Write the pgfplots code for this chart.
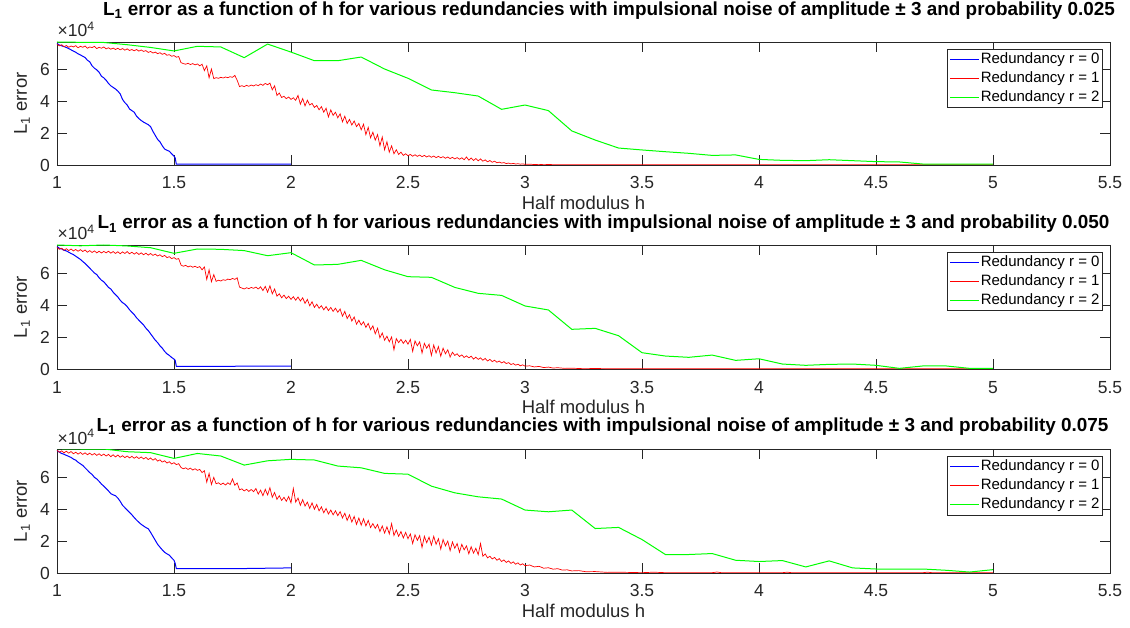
\documentclass[border=0pt]{standalone}
\usepackage{fontspec}
\setmainfont{Liberation Sans}
\usepackage{pgfplots}
\pgfplotsset{compat=1.18}
\definecolor{axgray}{RGB}{38,38,38}
\definecolor{mblue}{RGB}{0,0,255}
\definecolor{mred}{RGB}{255,0,0}
\definecolor{mgreen}{RGB}{0,255,0}
\pgfplotsset{
  myax/.style={
    scale only axis, width=1053pt,
    xmin=1, xmax=5.5, ymin=0,
    xtick={1,1.5,2,2.5,3,3.5,4,4.5,5,5.5},
    ytick={0,2,4,6},
    scaled ticks=false,
    /pgf/number format/assume math mode=true,
    tick align=inside,
    major tick length=10pt,
    axis line style={axgray, line width=0.8pt},
    every tick/.style={axgray, line width=0.8pt},
    tick label style={font=\fontsize{17.5}{18}\selectfont, text=axgray},
    xticklabel style={anchor=base, yshift=-24pt},
    yticklabel style={anchor=east, inner sep=0pt, xshift=-7pt},
    xlabel={Half modulus h},
    xlabel style={at={(rel axis cs:0.5,0)}, anchor=base, yshift=-44.5pt, inner sep=0pt, text depth=0pt, font=\fontsize{18.5}{19}\selectfont, text=axgray},
    ylabel={L\textsubscript{1} error},
    ylabel style={at={([xshift=-30pt]rel axis cs:0,0.5)}, anchor=base, font=\fontsize{18.5}{19}\selectfont, text=axgray},
    legend style={at={(rel axis cs:1,1)}, anchor=north east, xshift=-7pt, yshift=-7pt,
      draw=axgray, line width=0.8pt, fill=white, font=\fontsize{15}{16}\selectfont, text=black,
      inner xsep=2pt, inner ysep=2pt, row sep=2.5pt,
      nodes={inner sep=1pt, text height=11pt, text depth=3.5pt}},
    legend cell align=left,
    legend image code/.code={\draw[#1, line width=1.4pt] (0pt,0pt) -- (29pt,0pt);},
    clip mode=individual,
    every axis plot/.append style={line width=1pt},
  }
}
\newcommand{\ttl}[1]{\textbf{L\textsubscript{1} error as a function of h for various redundancies with impulsional noise of amplitude ± 3 and probability #1}}
\newcommand{\scalelab}{\node[anchor=base west, inner sep=0pt, xshift=0.5pt, yshift=5pt, font=\fontsize{17.5}{18}\selectfont, text=axgray] at (rel axis cs:0,1) {×10\textsuperscript{4}};}
\begin{document}
\begin{tikzpicture}
\useasboundingbox (-57pt,42pt) rectangle (1073pt,-586pt);
% ---------------- Panel 1 ----------------
\begin{axis}[myax, at={(0pt,0pt)}, anchor=north west, height=123pt, ymax=7.69,
  title={\ttl{0.025}},
  title style={at={(rel axis cs:0.5,1)}, anchor=base, inner sep=0pt, xshift=25.5pt, yshift=20.5pt, font=\fontsize{18.9}{20}\selectfont}]
\addplot[mblue] coordinates {(1.00,7.60)(1.01,7.50)(1.02,7.45)(1.03,7.40)(1.04,7.35)(1.05,7.28)(1.06,7.20)(1.07,7.12)(1.08,7.05)(1.09,6.95)(1.10,6.88)(1.11,6.80)(1.12,6.72)(1.13,6.55)(1.14,6.45)(1.15,6.20)(1.16,6.05)(1.17,5.95)(1.18,5.80)(1.19,5.55)(1.20,5.45)(1.21,5.30)(1.22,5.10)(1.23,4.95)(1.24,4.85)(1.25,4.75)(1.26,4.62)(1.27,4.45)(1.28,4.10)(1.29,3.90)(1.30,3.75)(1.31,3.50)(1.32,3.40)(1.33,3.30)(1.34,3.05)(1.35,2.90)(1.36,2.78)(1.37,2.68)(1.38,2.60)(1.39,2.52)(1.40,2.40)(1.41,2.10)(1.42,1.85)(1.43,1.60)(1.44,1.45)(1.45,1.20)(1.46,1.00)(1.47,0.92)(1.48,0.86)(1.49,0.70)(1.50,0.55)(1.505,0.45)(1.51,0.05)(1.60,0.05)(2.00,0.05)};
\addlegendentry{Redundancy r = 0}
\addplot[mred, line width=0.7pt] coordinates {(1.00,7.55)(1.01,7.45)(1.02,7.52)(1.03,7.40)(1.04,7.47)(1.05,7.36)(1.06,7.44)(1.07,7.38)(1.08,7.46)(1.09,7.33)(1.10,7.42)(1.11,7.36)(1.12,7.44)(1.13,7.30)(1.14,7.38)(1.15,7.34)(1.16,7.42)(1.17,7.28)(1.18,7.36)(1.19,7.30)(1.20,7.38)(1.21,7.26)(1.22,7.33)(1.23,7.24)(1.24,7.31)(1.25,7.22)(1.26,7.30)(1.27,7.20)(1.28,7.28)(1.29,7.18)(1.30,7.26)(1.31,7.16)(1.32,7.22)(1.33,7.14)(1.34,7.22)(1.35,7.12)(1.36,7.19)(1.37,7.10)(1.38,7.15)(1.39,7.04)(1.40,7.10)(1.41,7.00)(1.42,7.06)(1.43,6.96)(1.44,7.02)(1.45,6.92)(1.46,6.98)(1.47,6.86)(1.48,6.90)(1.49,6.80)(1.50,6.84)(1.51,6.74)(1.52,6.78)(1.53,6.40)(1.54,6.34)(1.55,6.30)(1.56,6.36)(1.57,6.28)(1.58,6.34)(1.59,6.26)(1.60,6.32)(1.61,6.20)(1.62,6.30)(1.63,5.90)(1.64,6.20)(1.65,5.45)(1.66,6.00)(1.67,5.40)(1.68,5.46)(1.69,5.42)(1.70,5.48)(1.71,5.44)(1.72,5.50)(1.73,5.46)(1.74,5.52)(1.75,5.48)(1.76,5.60)(1.77,5.30)(1.78,4.90)(1.79,4.96)(1.80,4.90)(1.81,4.98)(1.82,4.92)(1.83,5.00)(1.84,4.94)(1.85,5.02)(1.86,4.96)(1.87,5.06)(1.88,4.98)(1.89,5.10)(1.90,5.02)(1.91,5.12)(1.92,4.70)(1.93,4.95)(1.94,4.35)(1.95,4.50)(1.96,4.22)(1.97,4.30)(1.98,4.15)(1.99,4.25)(2.00,4.10)(2.01,4.20)(2.02,4.05)(2.03,4.35)(2.04,3.80)(2.05,4.15)(2.06,3.70)(2.07,4.05)(2.08,3.75)(2.09,3.85)(2.10,3.60)(2.11,3.72)(2.12,3.45)(2.13,3.65)(2.14,3.30)(2.15,3.55)(2.16,3.00)(2.17,3.45)(2.18,3.10)(2.19,3.30)(2.20,2.95)(2.21,3.20)(2.22,2.70)(2.23,3.05)(2.24,2.60)(2.25,2.85)(2.26,2.50)(2.27,2.75)(2.28,2.40)(2.29,2.60)(2.30,2.20)(2.31,2.55)(2.32,1.90)(2.33,2.35)(2.34,1.70)(2.35,2.05)(2.36,1.55)(2.37,1.90)(2.38,1.20)(2.39,1.75)(2.40,0.95)(2.41,1.45)(2.42,0.80)(2.43,1.20)(2.44,0.70)(2.45,0.95)(2.46,0.66)(2.47,0.80)(2.48,0.60)(2.49,0.70)(2.50,0.58)(2.51,0.66)(2.52,0.55)(2.53,0.64)(2.54,0.54)(2.55,0.62)(2.56,0.52)(2.57,0.60)(2.58,0.50)(2.59,0.58)(2.60,0.48)(2.61,0.56)(2.62,0.46)(2.63,0.54)(2.64,0.45)(2.65,0.52)(2.66,0.42)(2.67,0.50)(2.68,0.40)(2.69,0.48)(2.70,0.38)(2.71,0.46)(2.72,0.36)(2.73,0.45)(2.74,0.33)(2.75,0.50)(2.76,0.30)(2.77,0.44)(2.78,0.28)(2.79,0.40)(2.80,0.26)(2.81,0.38)(2.82,0.24)(2.83,0.32)(2.84,0.20)(2.85,0.28)(2.86,0.17)(2.87,0.24)(2.88,0.14)(2.89,0.18)(2.90,0.12)(2.91,0.15)(2.92,0.09)(2.93,0.12)(2.94,0.07)(2.95,0.10)(2.96,0.06)(2.97,0.08)(2.98,0.05)(2.99,0.07)(3.00,0.04)(3.02,0.05)(3.04,0.03)(3.06,0.04)(3.08,0.02)(3.10,0.03)(3.15,0.01)(3.20,0.02)(3.30,0.01)(3.40,0.01)(3.50,0.01)(3.70,0.01)(4.00,0.01)(4.50,0.01)(5.00,0.01)};
\addlegendentry{Redundancy r = 1}
\addplot[mgreen] coordinates {(1.0,7.69)(1.1,7.67)(1.2,7.66)(1.3,7.52)(1.4,7.35)(1.5,7.13)(1.6,7.42)(1.7,7.38)(1.8,6.71)(1.9,7.56)(2.0,7.06)(2.1,6.52)(2.2,6.52)(2.3,6.75)(2.4,6.0)(2.5,5.42)(2.6,4.69)(2.7,4.52)(2.8,4.31)(2.9,3.48)(3.0,3.75)(3.1,3.4)(3.2,2.13)(3.3,1.56)(3.4,1.06)(3.5,0.94)(3.6,0.83)(3.7,0.73)(3.8,0.6)(3.9,0.63)(4.0,0.35)(4.1,0.29)(4.2,0.27)(4.3,0.33)(4.4,0.27)(4.5,0.21)(4.6,0.19)(4.7,0.06)(4.8,0.06)(4.9,0.06)(5.0,0.06)};
\addlegendentry{Redundancy r = 2}
\scalelab
\end{axis}
% ---------------- Panel 2 ----------------
\begin{axis}[myax, at={(0pt,-203pt)}, anchor=north west, height=124pt, ymax=7.75,
  title={\ttl{0.050}},
  title style={at={(rel axis cs:0.5,1)}, anchor=base, inner sep=0pt, xshift=20pt, yshift=10pt, font=\fontsize{18.9}{20}\selectfont}]
\addplot[mblue] coordinates {(1.00,7.65)(1.01,7.55)(1.02,7.50)(1.03,7.42)(1.04,7.38)(1.05,7.30)(1.06,7.22)(1.07,7.15)(1.08,7.05)(1.09,6.95)(1.10,6.85)(1.11,6.72)(1.12,6.60)(1.13,6.45)(1.14,6.30)(1.15,6.15)(1.16,6.00)(1.17,5.90)(1.18,5.70)(1.19,5.55)(1.20,5.45)(1.21,5.28)(1.22,5.10)(1.23,5.00)(1.24,4.80)(1.25,4.65)(1.26,4.50)(1.27,4.30)(1.28,4.15)(1.29,4.05)(1.30,3.90)(1.31,3.70)(1.32,3.55)(1.33,3.40)(1.34,3.20)(1.35,3.05)(1.36,2.90)(1.37,2.75)(1.38,2.55)(1.39,2.40)(1.40,2.20)(1.41,2.00)(1.42,1.80)(1.43,1.65)(1.44,1.45)(1.45,1.30)(1.46,1.10)(1.47,0.95)(1.48,0.85)(1.49,0.72)(1.50,0.62)(1.505,0.55)(1.51,0.17)(1.70,0.17)(2.00,0.18)};
\addlegendentry{Redundancy r = 0}
\addplot[mred, line width=0.7pt] coordinates {(1.00,7.60)(1.01,7.48)(1.02,7.55)(1.03,7.42)(1.04,7.52)(1.05,7.40)(1.06,7.50)(1.07,7.38)(1.08,7.47)(1.09,7.36)(1.10,7.46)(1.11,7.34)(1.12,7.44)(1.13,7.30)(1.14,7.40)(1.15,7.28)(1.16,7.38)(1.17,7.26)(1.18,7.36)(1.19,7.25)(1.20,7.35)(1.21,7.26)(1.22,7.36)(1.23,7.24)(1.24,7.34)(1.25,7.22)(1.26,7.33)(1.27,7.20)(1.28,7.32)(1.29,7.22)(1.30,7.34)(1.31,7.20)(1.32,7.30)(1.33,7.18)(1.34,7.28)(1.35,7.16)(1.36,7.26)(1.37,7.14)(1.38,7.24)(1.39,7.12)(1.40,7.22)(1.41,7.10)(1.42,7.18)(1.43,7.06)(1.44,7.14)(1.45,7.02)(1.46,7.10)(1.47,6.96)(1.48,7.02)(1.49,6.90)(1.50,6.96)(1.51,6.86)(1.52,6.90)(1.53,6.50)(1.54,6.42)(1.55,6.48)(1.56,6.38)(1.57,6.44)(1.58,6.36)(1.59,6.42)(1.60,6.34)(1.61,6.40)(1.62,6.20)(1.63,6.38)(1.64,5.60)(1.65,6.20)(1.66,5.45)(1.67,5.90)(1.68,5.48)(1.69,5.55)(1.70,5.50)(1.71,5.58)(1.72,5.54)(1.73,5.62)(1.74,5.58)(1.75,5.66)(1.76,5.60)(1.77,5.70)(1.78,5.12)(1.79,5.06)(1.80,5.00)(1.81,5.08)(1.82,5.02)(1.83,5.10)(1.84,5.04)(1.85,5.12)(1.86,5.00)(1.87,5.14)(1.88,4.90)(1.89,5.16)(1.90,4.80)(1.91,5.20)(1.92,4.70)(1.93,5.00)(1.94,4.55)(1.95,4.70)(1.96,4.45)(1.97,4.62)(1.98,4.40)(1.99,4.55)(2.00,4.35)(2.01,4.52)(2.02,4.30)(2.03,4.50)(2.04,4.25)(2.05,4.45)(2.06,4.10)(2.07,4.35)(2.08,3.95)(2.09,4.20)(2.10,3.85)(2.11,4.05)(2.12,3.80)(2.13,3.95)(2.14,3.70)(2.15,3.90)(2.16,3.65)(2.17,3.85)(2.18,3.60)(2.19,3.80)(2.20,3.55)(2.21,3.75)(2.22,3.30)(2.23,3.60)(2.24,3.15)(2.25,3.40)(2.26,3.00)(2.27,3.25)(2.28,2.80)(2.29,3.05)(2.30,2.75)(2.31,2.95)(2.32,2.60)(2.33,2.85)(2.34,2.45)(2.35,2.70)(2.36,2.20)(2.37,2.55)(2.38,1.95)(2.39,2.25)(2.40,1.80)(2.41,2.05)(2.42,1.70)(2.43,2.00)(2.44,1.20)(2.45,1.90)(2.46,1.65)(2.47,1.85)(2.48,1.60)(2.49,1.80)(2.50,1.55)(2.51,1.85)(2.52,1.10)(2.53,1.75)(2.54,1.45)(2.55,1.70)(2.56,1.00)(2.57,1.60)(2.58,1.30)(2.59,1.55)(2.60,0.85)(2.61,1.50)(2.62,1.00)(2.63,1.40)(2.64,0.80)(2.65,1.30)(2.66,0.95)(2.67,1.20)(2.68,0.75)(2.69,1.05)(2.70,0.85)(2.71,0.95)(2.72,0.78)(2.73,0.88)(2.74,0.72)(2.75,0.82)(2.76,0.70)(2.77,0.80)(2.78,0.62)(2.79,0.74)(2.80,0.60)(2.81,0.70)(2.82,0.55)(2.83,0.66)(2.84,0.50)(2.85,0.60)(2.86,0.46)(2.87,0.55)(2.88,0.42)(2.89,0.50)(2.90,0.38)(2.91,0.46)(2.92,0.34)(2.93,0.40)(2.94,0.28)(2.95,0.34)(2.96,0.24)(2.97,0.30)(2.98,0.20)(2.99,0.26)(3.00,0.18)(3.02,0.20)(3.04,0.13)(3.06,0.16)(3.08,0.09)(3.10,0.12)(3.12,0.06)(3.14,0.08)(3.17,0.04)(3.20,0.05)(3.25,0.02)(3.30,0.03)(3.40,0.01)(3.50,0.02)(3.70,0.01)(4.00,0.01)(4.50,0.01)(5.00,0.01)};
\addlegendentry{Redundancy r = 1}
\addplot[mgreen] coordinates {(1.0,7.75)(1.1,7.7)(1.2,7.75)(1.3,7.69)(1.4,7.58)(1.5,7.23)(1.6,7.5)(1.7,7.48)(1.8,7.4)(1.9,7.08)(2.0,7.27)(2.1,6.5)(2.2,6.54)(2.3,6.79)(2.4,6.2)(2.5,5.77)(2.6,5.73)(2.7,5.1)(2.8,4.73)(2.9,4.6)(3.0,3.94)(3.1,3.69)(3.2,2.48)(3.3,2.54)(3.4,2.08)(3.5,1.02)(3.6,0.81)(3.7,0.73)(3.8,0.87)(3.9,0.54)(4.0,0.64)(4.1,0.31)(4.2,0.23)(4.3,0.29)(4.4,0.31)(4.5,0.23)(4.6,0.04)(4.7,0.19)(4.8,0.19)(4.9,0.04)(5.0,0.04)};
\addlegendentry{Redundancy r = 2}
\scalelab
\end{axis}
% ---------------- Panel 3 ----------------
\begin{axis}[myax, at={(0pt,-407pt)}, anchor=north west, height=124pt, ymax=7.78,
  title={\ttl{0.075}},
  title style={at={(rel axis cs:0.5,1)}, anchor=base, inner sep=0pt, xshift=19pt, yshift=11.5pt, font=\fontsize{18.9}{20}\selectfont}]
\addplot[mblue] coordinates {(1.00,7.70)(1.01,7.58)(1.02,7.50)(1.03,7.45)(1.04,7.38)(1.05,7.32)(1.06,7.25)(1.07,7.15)(1.08,7.08)(1.09,6.95)(1.10,6.85)(1.11,6.75)(1.12,6.60)(1.13,6.45)(1.14,6.30)(1.15,6.18)(1.16,6.00)(1.17,5.90)(1.18,5.75)(1.19,5.58)(1.20,5.45)(1.21,5.30)(1.22,5.15)(1.23,4.98)(1.24,4.90)(1.25,4.85)(1.26,4.70)(1.27,4.50)(1.28,4.25)(1.29,4.10)(1.30,3.95)(1.31,3.80)(1.32,3.65)(1.33,3.48)(1.34,3.32)(1.35,3.18)(1.36,3.05)(1.37,2.95)(1.38,2.85)(1.39,2.78)(1.40,2.55)(1.41,2.30)(1.42,2.05)(1.43,1.80)(1.44,1.62)(1.45,1.45)(1.46,1.30)(1.47,1.20)(1.48,1.12)(1.49,0.95)(1.50,0.80)(1.505,0.60)(1.51,0.27)(1.60,0.27)(1.80,0.28)(2.00,0.32)};
\addlegendentry{Redundancy r = 0}
\addplot[mred, line width=0.7pt] coordinates {(1.00,7.70)(1.01,7.58)(1.02,7.66)(1.03,7.54)(1.04,7.64)(1.05,7.52)(1.06,7.62)(1.07,7.48)(1.08,7.58)(1.09,7.46)(1.10,7.56)(1.11,7.44)(1.12,7.54)(1.13,7.42)(1.14,7.52)(1.15,7.40)(1.16,7.50)(1.17,7.38)(1.18,7.48)(1.19,7.36)(1.20,7.46)(1.21,7.34)(1.22,7.44)(1.23,7.30)(1.24,7.42)(1.25,7.28)(1.26,7.40)(1.27,7.26)(1.28,7.36)(1.29,7.24)(1.30,7.34)(1.31,7.22)(1.32,7.32)(1.33,7.20)(1.34,7.30)(1.35,7.18)(1.36,7.28)(1.37,7.16)(1.38,7.25)(1.39,7.12)(1.40,7.22)(1.41,7.08)(1.42,7.18)(1.43,7.02)(1.44,7.10)(1.45,6.96)(1.46,7.04)(1.47,6.90)(1.48,6.98)(1.49,6.84)(1.50,6.92)(1.51,6.80)(1.52,6.86)(1.53,6.62)(1.54,6.54)(1.55,6.60)(1.56,6.50)(1.57,6.58)(1.58,6.46)(1.59,6.54)(1.60,6.44)(1.61,6.50)(1.62,6.30)(1.63,6.42)(1.64,5.70)(1.65,6.25)(1.66,5.55)(1.67,6.00)(1.68,5.60)(1.69,5.66)(1.70,5.55)(1.71,5.64)(1.72,5.52)(1.73,5.66)(1.74,5.55)(1.75,5.90)(1.76,5.50)(1.77,5.65)(1.78,5.22)(1.79,5.28)(1.80,5.15)(1.81,5.25)(1.82,5.12)(1.83,5.24)(1.84,5.10)(1.85,5.30)(1.86,4.95)(1.87,5.20)(1.88,4.85)(1.89,5.25)(1.90,4.90)(1.91,5.35)(1.92,4.75)(1.93,5.05)(1.94,4.62)(1.95,4.85)(1.96,4.55)(1.97,4.75)(1.98,4.50)(1.99,4.80)(2.00,4.40)(2.01,5.30)(2.02,4.45)(2.03,4.70)(2.04,4.25)(2.05,4.60)(2.06,4.20)(2.07,4.45)(2.08,4.05)(2.09,4.40)(2.10,4.00)(2.11,4.30)(2.12,3.90)(2.13,4.15)(2.14,3.78)(2.15,4.05)(2.16,3.70)(2.17,3.95)(2.18,3.65)(2.19,3.90)(2.20,3.60)(2.21,3.85)(2.22,3.45)(2.23,3.75)(2.24,3.30)(2.25,3.65)(2.26,3.20)(2.27,3.55)(2.28,3.05)(2.29,3.45)(2.30,3.00)(2.31,3.40)(2.32,2.95)(2.33,3.30)(2.34,2.85)(2.35,3.10)(2.36,2.80)(2.37,3.05)(2.38,2.60)(2.39,2.95)(2.40,2.50)(2.41,2.90)(2.42,2.45)(2.43,3.10)(2.44,2.35)(2.45,2.70)(2.46,2.30)(2.47,2.60)(2.48,2.20)(2.49,2.55)(2.50,2.15)(2.51,2.45)(2.52,1.85)(2.53,2.40)(2.54,2.05)(2.55,2.35)(2.56,1.60)(2.57,2.30)(2.58,1.90)(2.59,2.25)(2.60,1.75)(2.61,2.30)(2.62,1.80)(2.63,2.15)(2.64,1.50)(2.65,2.10)(2.66,1.70)(2.67,2.00)(2.68,1.40)(2.69,1.95)(2.70,1.55)(2.71,1.85)(2.72,1.30)(2.73,1.80)(2.74,1.45)(2.75,1.70)(2.76,1.20)(2.77,1.65)(2.78,1.25)(2.79,1.55)(2.80,1.15)(2.81,1.85)(2.82,1.05)(2.83,1.20)(2.84,0.95)(2.85,1.05)(2.86,0.88)(2.87,0.98)(2.88,0.80)(2.89,0.90)(2.90,0.72)(2.91,0.82)(2.92,0.66)(2.93,0.76)(2.94,0.60)(2.95,0.70)(2.96,0.55)(2.97,0.64)(2.98,0.50)(2.99,0.58)(3.00,0.46)(3.02,0.50)(3.04,0.38)(3.06,0.42)(3.08,0.30)(3.10,0.33)(3.12,0.24)(3.14,0.27)(3.16,0.18)(3.18,0.20)(3.20,0.13)(3.23,0.15)(3.26,0.08)(3.30,0.09)(3.35,0.04)(3.40,0.05)(3.50,0.02)(3.55,0.05)(3.60,0.02)(3.80,0.02)(3.82,0.06)(3.84,0.02)(4.10,0.02)(4.12,0.05)(4.14,0.02)(4.50,0.02)(4.70,0.02)(4.72,0.05)(4.74,0.02)(5.00,0.02)};
\addlegendentry{Redundancy r = 1}
\addplot[mgreen] coordinates {(1.0,7.8)(1.1,7.78)(1.2,7.78)(1.3,7.61)(1.4,7.55)(1.5,7.19)(1.6,7.5)(1.7,7.34)(1.8,6.77)(1.9,7.04)(2.0,7.13)(2.1,7.09)(2.2,6.71)(2.3,6.6)(2.4,6.25)(2.5,6.2)(2.6,5.45)(2.7,5.03)(2.8,4.78)(2.9,4.64)(3.0,3.95)(3.1,3.84)(3.2,3.95)(3.3,2.79)(3.4,2.86)(3.5,2.1)(3.6,1.16)(3.7,1.16)(3.8,1.22)(3.9,0.8)(4.0,0.72)(4.1,0.78)(4.2,0.38)(4.3,0.76)(4.4,0.32)(4.5,0.25)(4.6,0.25)(4.7,0.25)(4.8,0.17)(4.9,0.06)(5.0,0.21)};
\addlegendentry{Redundancy r = 2}
\scalelab
\end{axis}
\end{tikzpicture}
\end{document}
